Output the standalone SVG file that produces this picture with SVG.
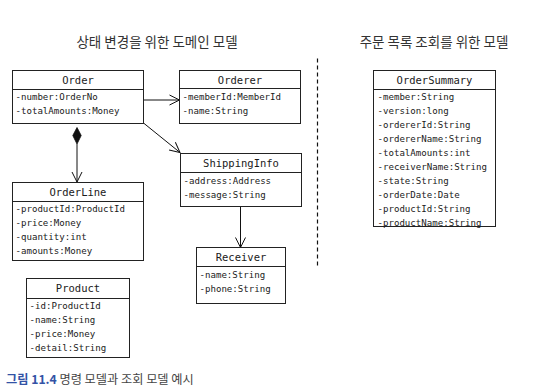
<svg xmlns="http://www.w3.org/2000/svg" width="534" height="389" viewBox="0 0 534 389">
<defs>
<style>
.box{fill:#fff;stroke:#222;stroke-width:1}
.div{stroke:#222;stroke-width:1}
.hd{font-family:"DejaVu Sans Mono","Liberation Mono",monospace;font-size:10.5px;fill:#1a1a1a;text-anchor:middle}
.fd{font-family:"DejaVu Sans Mono","Liberation Mono",monospace;font-size:9.1px;fill:#1a1a1a}
.ttl{font-family:"Noto Sans CJK KR","Noto Sans",sans-serif;font-size:13.5px;fill:#333;text-anchor:middle}
.cap{font-family:"Noto Sans CJK KR","Noto Sans",sans-serif;font-size:12.2px;fill:#444}
.ln{stroke:#111;stroke-width:1;fill:none}
</style>
<marker id="open" viewBox="0 0 12 12" refX="11" refY="6" markerWidth="12" markerHeight="12" markerUnits="userSpaceOnUse" orient="auto">
<path d="M1,1 L11,6 L1,11" fill="none" stroke="#111" stroke-width="1"/>
</marker>
</defs>
<rect width="534" height="389" fill="#fff"/>
<text class="ttl" x="157" y="47">상태 변경을 위한 도메인 모델</text>
<text class="ttl" x="434" y="47">주문 목록 조회를 위한 모델</text>

<g id="connectors">
<line class="ln" x1="143.5" y1="100" x2="179.5" y2="100" marker-end="url(#open)"/>
<line class="ln" x1="143.5" y1="123" x2="180" y2="152.5" marker-end="url(#open)"/>
<line class="ln" x1="240.5" y1="207" x2="240.5" y2="247.5" marker-end="url(#open)"/>
<path d="M77,127.5 L81.2,135.5 L77,144 L72.8,135.5 Z" fill="#111" stroke="#111" stroke-width="0.8"/>
<line class="ln" x1="77" y1="144" x2="77" y2="182" marker-end="url(#open)"/>
<line x1="317.5" y1="58.5" x2="317.5" y2="268.5" stroke="#111" stroke-width="1.2" stroke-dasharray="4 3"/>
</g>

<g id="Order">
<rect class="box" x="12.5" y="70.5" width="131" height="53"/>
<line class="div" x1="12.5" y1="89.5" x2="143.5" y2="89.5"/>
<text class="hd" x="78" y="84">Order</text>
<text class="fd" x="15.5" y="100">-number:OrderNo</text>
<text class="fd" x="15.5" y="114">-totalAmounts:Money</text>
</g>

<g id="Orderer">
<rect class="box" x="179.5" y="70.5" width="121" height="53"/>
<line class="div" x1="179.5" y1="88.5" x2="300.5" y2="88.5"/>
<text class="hd" x="240" y="84">Orderer</text>
<text class="fd" x="182.5" y="100">-memberId:MemberId</text>
<text class="fd" x="182.5" y="114">-name:String</text>
</g>

<g id="ShippingInfo">
<rect class="box" x="180.5" y="153.5" width="121" height="53"/>
<line class="div" x1="180.5" y1="172.5" x2="301.5" y2="172.5"/>
<text class="hd" x="241" y="167">ShippingInfo</text>
<text class="fd" x="183.5" y="184">-address:Address</text>
<text class="fd" x="183.5" y="198">-message:String</text>
</g>

<g id="Receiver">
<rect class="box" x="196.5" y="247.5" width="89" height="56"/>
<line class="div" x1="196.5" y1="266.5" x2="285.5" y2="266.5"/>
<text class="hd" x="241" y="261">Receiver</text>
<text class="fd" x="199.5" y="277.5">-name:String</text>
<text class="fd" x="199.5" y="291.5">-phone:String</text>
</g>

<g id="OrderLine">
<rect class="box" x="12.5" y="182.5" width="131" height="78"/>
<line class="div" x1="12.5" y1="201.5" x2="143.5" y2="201.5"/>
<text class="hd" x="78" y="196">OrderLine</text>
<text class="fd" x="15.5" y="212">-productId:ProductId</text>
<text class="fd" x="15.5" y="226">-price:Money</text>
<text class="fd" x="15.5" y="240">-quantity:int</text>
<text class="fd" x="15.5" y="254">-amounts:Money</text>
</g>

<g id="Product">
<rect class="box" x="26.5" y="278.5" width="103" height="79"/>
<line class="div" x1="26.5" y1="298.5" x2="129.5" y2="298.5"/>
<text class="hd" x="78" y="292">Product</text>
<text class="fd" x="29.5" y="309">-id:ProductId</text>
<text class="fd" x="29.5" y="323">-name:String</text>
<text class="fd" x="29.5" y="337">-price:Money</text>
<text class="fd" x="29.5" y="351">-detail:String</text>
</g>

<g id="OrderSummary">
<rect class="box" x="373.5" y="70.5" width="122" height="156"/>
<line class="div" x1="373.5" y1="89.5" x2="495.5" y2="89.5"/>
<text class="hd" x="434.5" y="84">OrderSummary</text>
<text class="fd" x="377.5" y="100">-member:String</text>
<text class="fd" x="377.5" y="114">-version:long</text>
<text class="fd" x="377.5" y="128">-ordererId:String</text>
<text class="fd" x="377.5" y="142">-ordererName:String</text>
<text class="fd" x="377.5" y="156">-totalAmounts:int</text>
<text class="fd" x="377.5" y="170">-receiverName:String</text>
<text class="fd" x="377.5" y="184">-state:String</text>
<text class="fd" x="377.5" y="198">-orderDate:Date</text>
<text class="fd" x="377.5" y="212">-productId:String</text>
<text class="fd" x="377.5" y="226">-productName:String</text>
</g>

<text class="cap" x="6" y="384"><tspan fill="#3353a6" font-weight="bold">그림 11.4</tspan> 명령 모델과 조회 모델 예시</text>
</svg>
